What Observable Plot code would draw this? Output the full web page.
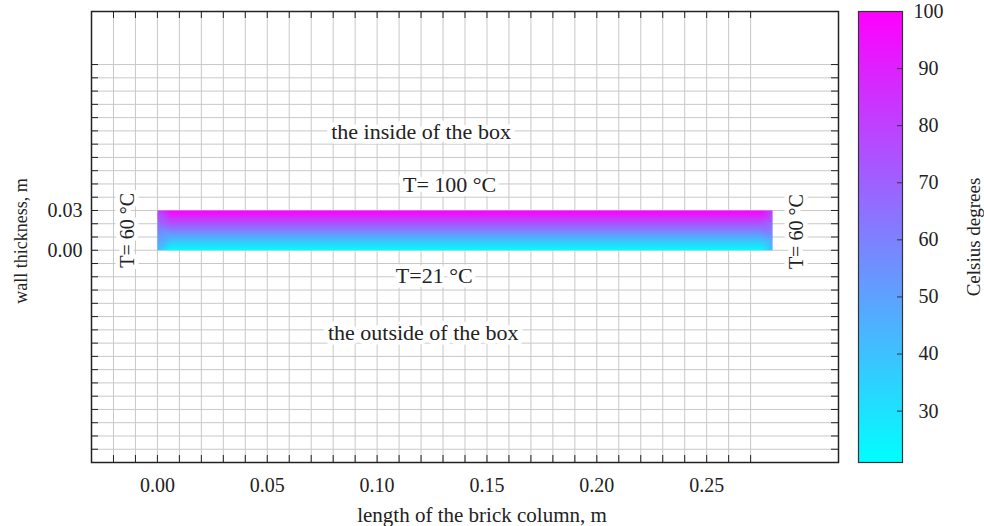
<!DOCTYPE html>
<html>
<head>
<meta charset="utf-8">
<script src="https://cdn.jsdelivr.net/npm/d3@7"></script>
<script src="https://cdn.jsdelivr.net/npm/@observablehq/plot@0.6"></script>
<style>
  body { margin: 0; background: #fff; }
  #wrap { position: relative; width: 984px; height: 526px; }
  #wrap svg { position: absolute; left: 0; top: 0; }
</style>
</head>
<body>
<div id="wrap"></div>
<script>
// ---- data ----
const xDomain = [-0.03, 0.31];
const yDomain = [-0.16, 0.18];
const xMinorTicks = [-0.02, -0.01, 0, 0.01, 0.02, 0.03, 0.04, 0.05, 0.06, 0.07, 0.08, 0.09, 0.10, 0.11, 0.12, 0.13, 0.14, 0.15, 0.16, 0.17, 0.18, 0.19, 0.20, 0.21, 0.22, 0.23, 0.24, 0.25, 0.26, 0.27];
const yMinorTicks = [-0.15, -0.14, -0.13, -0.12, -0.11, -0.10, -0.09, -0.08, -0.07, -0.06, -0.05, -0.04, -0.03, -0.02, -0.01, 0, 0.01, 0.02, 0.03, 0.04, 0.05, 0.06, 0.07, 0.08, 0.09, 0.10, 0.11, 0.12, 0.13, 0.14];
const xLabeledTicks = [0, 0.05, 0.10, 0.15, 0.20, 0.25];
const yLabeledTicks = [0, 0.03];
const tempDomain = [21, 100];
const tempTicks = [30, 40, 50, 60, 70, 80, 90, 100];

// temperature field of the brick wall (columns along length, rows along thickness)
const barX = [0, 0.006, 0.274, 0.28];
const barY = [0, 0.01, 0.02, 0.03];
const barTemps = [
  [40, 21, 21, 40],
  [53, 47, 47, 53],
  [67, 74, 74, 67],
  [80, 100, 100, 80]
];

// annotations
const annoText = ["the inside of the box", "T= 100 \u00B0C", "T=21 \u00B0C", "the outside of the box"];
const annoX = [0.120, 0.133, 0.126, 0.121];
const annoY = [0.089, 0.049, -0.019, -0.062];
const sideText = ["T= 60 \u00B0C", "T= 60 \u00B0C"];
const sideX = [-0.0136, 0.291];
const sideY = [0.015, 0.014];

const xLabel = "length of the brick column, m";
const yLabel = "wall thickness, m";
const colorLabel = "Celsius degrees";

// ---- build ----
const field = [];
barY.forEach((y, i) => barX.forEach((x, j) => field.push({x, y, t: barTemps[i][j]})));
const annos = annoText.map((text, i) => ({text, x: annoX[i], y: annoY[i]}));
const sides = sideText.map((text, i) => ({text, x: sideX[i], y: sideY[i]}));

const font = "'Liberation Serif', 'Times New Roman', serif";
const colorScale = {type: "linear", domain: tempDomain, range: ["#00ffff", "#ff00ff"], interpolate: "rgb"};
const gridColor = "#c8c8c8";
const ink = "#222";

const main = Plot.plot({
  width: 984, height: 526,
  marginLeft: 91, marginRight: 146, marginTop: 11, marginBottom: 64,
  style: {fontFamily: font, fontSize: "20px", color: ink, background: "transparent"},
  x: {domain: xDomain},
  y: {domain: yDomain},
  color: colorScale,
  marks: [
    Plot.gridX(xMinorTicks, {stroke: gridColor, strokeOpacity: 1}),
    Plot.gridY(yMinorTicks, {stroke: gridColor, strokeOpacity: 1}),
    Plot.raster(field, {x: "x", y: "y", fill: "t", x1: 0, x2: 0.28, y1: 0, y2: 0.03, interpolate: "barycentric"}),
    Plot.text(annos, {x: "x", y: "y", text: "text", fontSize: 22, fill: ink, stroke: "white", strokeWidth: 9, strokeLinejoin: "round"}),
    Plot.text(sides, {x: "x", y: "y", text: "text", rotate: -90, fontSize: 20, fill: ink, stroke: "white", strokeWidth: 9, strokeLinejoin: "round"}),
    Plot.tickX(xMinorTicks, {x: d => d, insetTop: 444, stroke: ink}),
    Plot.tickX(xMinorTicks, {x: d => d, insetBottom: 444, stroke: ink}),
    Plot.tickY(yMinorTicks, {y: d => d, insetRight: 740, stroke: ink}),
    Plot.tickY(yMinorTicks, {y: d => d, insetLeft: 740, stroke: ink}),
    Plot.axisX(xLabeledTicks, {tickSize: 0, tickPadding: 15, tickFormat: ".2f", label: null, fontSize: 20}),
    Plot.axisY(yLabeledTicks, {tickSize: 0, tickPadding: 9, tickFormat: ".2f", label: null, fontSize: 20}),
    Plot.frame({stroke: ink, strokeWidth: 1.5}),
    Plot.text([xLabel], {frameAnchor: "bottom", textAnchor: "middle", lineAnchor: "middle", dx: 17, dy: 53, fontSize: 21, fill: ink}),
    Plot.text([yLabel], {frameAnchor: "left", textAnchor: "middle", lineAnchor: "middle", rotate: -90, dx: -70, dy: 4, fontSize: 18, fill: ink})
  ]
});

const bar = Plot.plot({
  width: 984, height: 526,
  marginLeft: 858, marginRight: 82, marginTop: 11, marginBottom: 64,
  style: {fontFamily: font, fontSize: "20px", color: ink, background: "transparent"},
  x: {domain: [0, 1], axis: null},
  y: {domain: tempDomain},
  color: colorScale,
  marks: [
    Plot.raster({x1: 0, x2: 1, y1: tempDomain[0], y2: tempDomain[1], fill: (x, y) => y}),
    Plot.tickY(tempTicks.filter(t => t < 100), {y: d => d, insetLeft: 39, stroke: "#333"}),
    Plot.frame({stroke: "#333", strokeWidth: 1.2}),
    Plot.axisY(tempTicks, {anchor: "right", tickSize: 0, tickPadding: 26, textAnchor: "middle", label: null, fontSize: 20}),
    Plot.text([colorLabel], {frameAnchor: "right", textAnchor: "middle", lineAnchor: "middle", rotate: -90, dx: 71, fontSize: 19, fill: ink})
  ]
});

const wrap = document.getElementById("wrap");
wrap.appendChild(main);
wrap.appendChild(bar);
</script>
</body>
</html>
